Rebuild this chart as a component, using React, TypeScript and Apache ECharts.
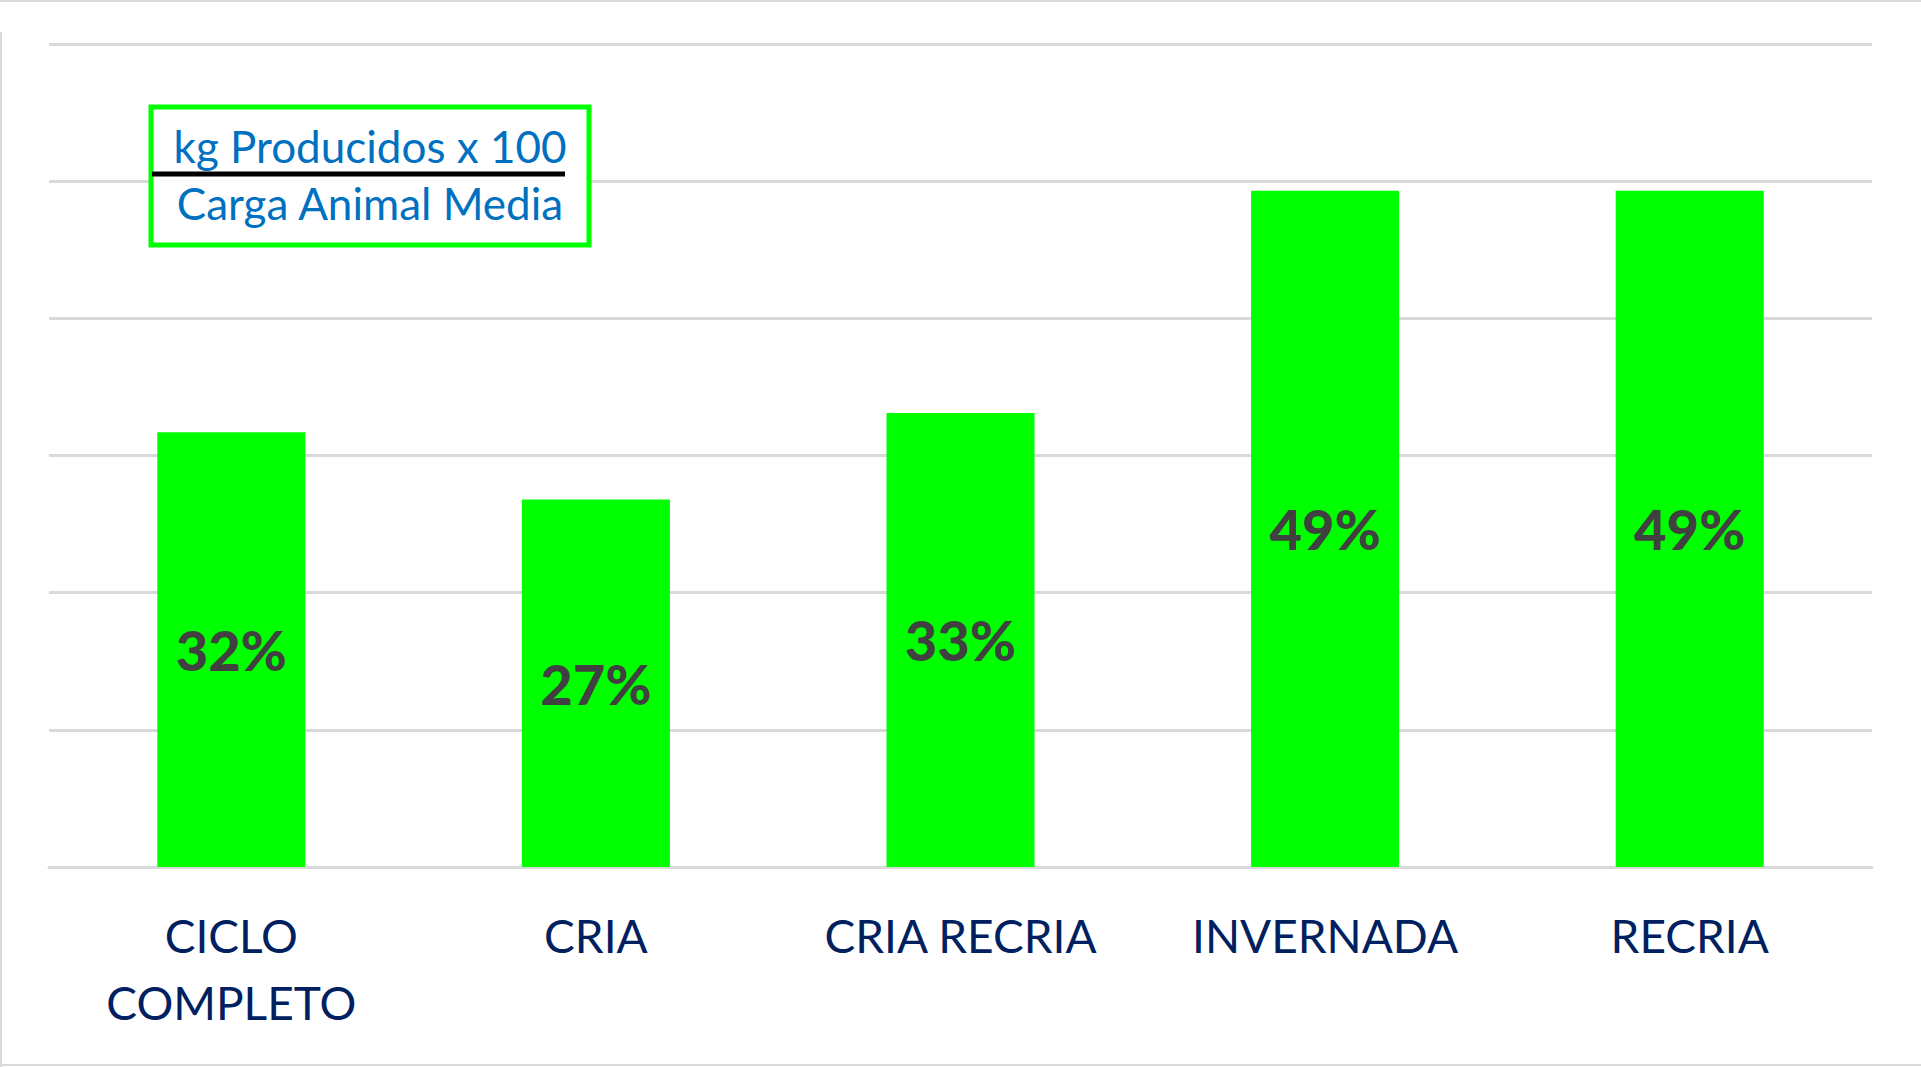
import React, { useEffect, useRef } from "react";
import * as echarts from "echarts";

const categories = ["CICLO\nCOMPLETO", "CRIA", "CRIA RECRIA", "INVERNADA", "RECRIA"];
const values = [31.7, 26.8, 33.1, 49.3, 49.3];
const yMin = 0;
const yMax = 60;
const yInterval = 10;
const boxLine1 = "kg Producidos x 100";
const boxLine2 = "Carga Animal Media";

const FONT = "Lato, 'Open Sans', sans-serif";

export default function App() {
  const ref = useRef<HTMLDivElement>(null);
  useEffect(() => {
    if (!ref.current) return;
    const chart = echarts.init(ref.current, undefined, { renderer: "svg" });
    chart.setOption({
      animation: false,
      backgroundColor: "#ffffff",
      grid: { left: 49, right: 49, top: 44, bottom: 200, containLabel: false },
      xAxis: {
        type: "category",
        data: categories,
        axisLine: { show: true, lineStyle: { color: "#d9d9d9", width: 3 } },
        axisTick: { show: false },
        axisLabel: {
          margin: 35,
          color: "#002060",
          fontFamily: FONT,
          fontSize: 46,
          lineHeight: 67,
          interval: 0,
        },
      },
      yAxis: {
        type: "value",
        min: yMin,
        max: yMax,
        interval: yInterval,
        axisLabel: { show: false },
        axisLine: { show: false },
        axisTick: { show: false },
        splitLine: { lineStyle: { color: "#d9d9d9", width: 3 } },
      },
      series: [
        {
          type: "bar",
          data: values,
          barWidth: 148,
          itemStyle: { color: "#00ff00" },
          label: {
            show: true,
            position: "inside",
            formatter: (p: any) => Math.round(p.value) + "%",
            color: "#404040",
            fontFamily: FONT,
            fontWeight: 900,
            fontSize: 56,
          },
        },
      ],
      graphic: [
        { type: "line", shape: { x1: 0, y1: 1, x2: 1921, y2: 1 }, style: { stroke: "#d9d9d9", lineWidth: 2 } },
        { type: "line", shape: { x1: 1, y1: 32, x2: 1, y2: 1067 }, style: { stroke: "#d9d9d9", lineWidth: 2 } },
        { type: "line", shape: { x1: 0, y1: 1065, x2: 1921, y2: 1065 }, style: { stroke: "#d9d9d9", lineWidth: 2 } },
        {
          type: "rect",
          shape: { x: 151, y: 107, width: 438, height: 138 },
          style: { fill: "#ffffff", stroke: "#00ff00", lineWidth: 5 },
          z: 10,
        },
        {
          type: "line",
          shape: { x1: 152, y1: 174, x2: 565, y2: 174 },
          style: { stroke: "#000000", lineWidth: 5 },
          z: 11,
        },
        {
          type: "text",
          x: 370,
          y: 146,
          style: {
            text: boxLine1,
            fill: "#0070c0",
            font: `44px ${FONT}`,
            textAlign: "center",
            textVerticalAlign: "middle",
          },
          z: 11,
        },
        {
          type: "text",
          x: 370,
          y: 203,
          style: {
            text: boxLine2,
            fill: "#0070c0",
            font: `44px ${FONT}`,
            textAlign: "center",
            textVerticalAlign: "middle",
          },
          z: 11,
        },
      ],
    });
    return () => chart.dispose();
  }, []);
  return (
    <div
      ref={ref}
      style={{ position: "fixed", left: 0, top: 0, width: 1921, height: 1067, background: "#fff" }}
    />
  );
}
